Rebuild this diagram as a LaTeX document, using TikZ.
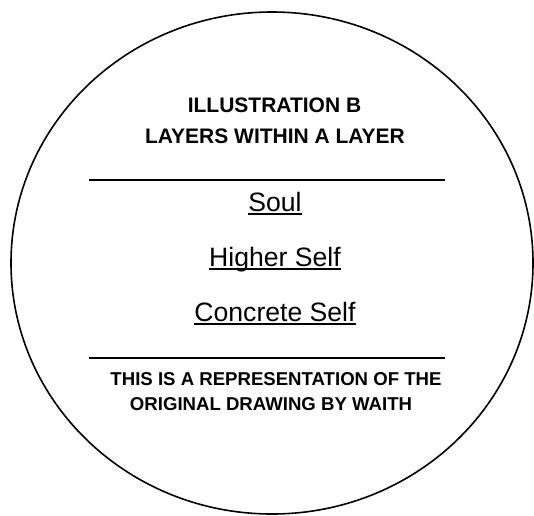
\documentclass[tikz,border=0pt]{standalone}
\usepackage{fontspec}
\setmainfont{Liberation Sans}
\begin{document}
\begin{tikzpicture}[x=1pt,y=-1pt,
  titletxt/.style={font=\bfseries\fontsize{21}{25}\selectfont, inner sep=0pt, anchor=base},
  notetxt/.style={font=\bfseries\fontsize{18.6}{22}\selectfont, inner sep=0pt, anchor=base},
  layertxt/.style={font=\fontsize{26.6}{30}\selectfont, inner sep=0pt, anchor=base},
  rule/.style={line width=1.5pt},
  uline/.style={line width=1.8pt}]
\useasboundingbox (0,0) rectangle (534,515);
\draw[line width=1.6pt] (272,263) ellipse [x radius=261, y radius=251];

\node[titletxt] (t1) at (274.5,112.5) {ILLUSTRATION B};
\node[titletxt] (t2) at (275,143.5) {LAYERS WITHIN A LAYER};

\coordinate (r1a) at (89,180);
\coordinate (r1b) at (445,180);
\draw[rule] (r1a) -- (r1b);

\node[layertxt] (soul) at (275,211.5) {Soul};
\node[layertxt] (higher) at (275,266.7) {Higher Self};
\node[layertxt] (concrete) at (275,321.5) {Concrete Self};
\foreach \n in {soul,higher,concrete}{
  \draw[uline] ([yshift=-2.6pt]\n.base west) -- ([yshift=-2.6pt]\n.base east);
}

\coordinate (r2a) at (89,358);
\coordinate (r2b) at (445,358);
\draw[rule] (r2a) -- (r2b);

\node[notetxt] (n1) at (276,385) {THIS IS A REPRESENTATION OF THE};
\node[notetxt] (n2) at (271,410) {ORIGINAL DRAWING BY WAITH};
\end{tikzpicture}
\end{document}
